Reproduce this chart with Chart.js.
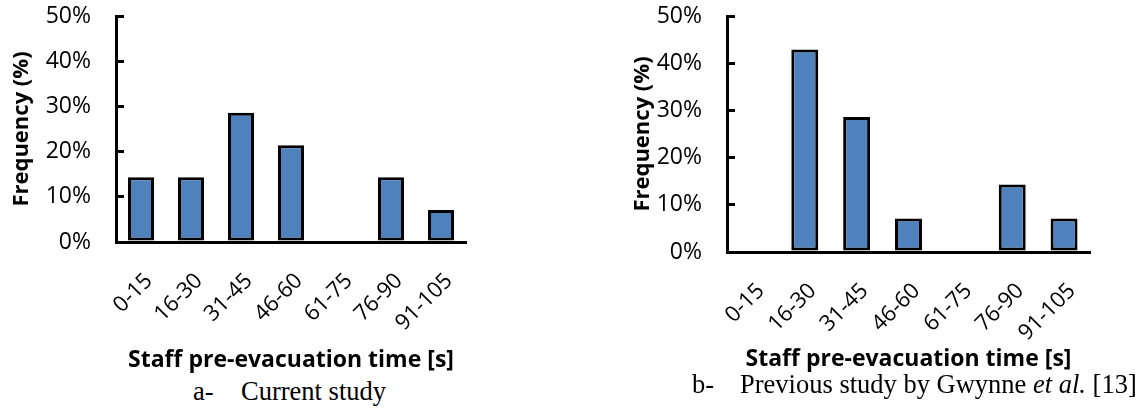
<!DOCTYPE html>
<html><head><meta charset="utf-8">
<script src="https://cdn.jsdelivr.net/npm/chart.js@4"></script>
<style>
body{margin:0;background:#fff;width:1141px;height:412px;position:relative;overflow:hidden}
#w1{position:absolute;left:0;top:0;width:480px;height:374px}
#w2{position:absolute;left:600px;top:0;width:541px;height:374px}
.cap{position:absolute;font-family:'Liberation Serif';font-size:26.5px;white-space:nowrap;line-height:26.5px;color:#000}
</style></head>
<body>
<div id="w1"><canvas id="c1"></canvas></div>
<div id="w2"><canvas id="c2"></canvas></div>
<div class="cap" style="left:193px;top:378px">a-</div>
<div class="cap" style="left:241px;top:378px">Current study</div>
<div class="cap" style="left:692px;top:371px">b-</div>
<div class="cap" style="left:740px;top:371px">Previous study by Gwynne <i>et al.</i> [13]</div>
<script>
const categories = ['0-15','16-30','31-45','46-60','61-75','76-90','91-105'];
const currentStudy = [14.3, 14.3, 28.6, 21.4, 0, 14.3, 7.1];
const gwynneStudy = [0, 42.9, 28.6, 7.1, 0, 14.3, 7.1];
const yMin = 0, yMax = 50, yStep = 10;
const yTitle = 'Frequency (%)';
const xTitle = 'Staff pre-evacuation time [s]';

function makeChart(id, values, cfg) {
  return new Chart(document.getElementById(id), {
    type: 'bar',
    data: {
      labels: categories,
      datasets: [{
        data: values,
        backgroundColor: '#4F81BD',
        borderColor: '#000',
        borderWidth: 3,
        borderSkipped: false,
        barPercentage: 0.52,
        categoryPercentage: 1
      }]
    },
    options: {
      responsive: true,
      maintainAspectRatio: false,
      animation: false,
      layout: { padding: { left: 0, top: cfg.top, right: cfg.right, bottom: 0 } },
      plugins: { legend: { display: false }, tooltip: { enabled: false } },
      scales: {
        x: {
          grid: { display: false, drawTicks: false },
          border: { display: true, color: '#000', width: 3 },
          ticks: {
            autoSkip: false, maxRotation: 45, minRotation: 45,
            color: '#000', font: { family: 'Open Sans', size: 22 },
            padding: 26, labelOffset: 8
          },
          title: {
            display: true, text: xTitle, color: '#000',
            font: { family: 'Open Sans', weight: 'bold', size: 23 },
            padding: { top: 0, bottom: cfg.xpb }
          },
          afterFit: s => { s.height = cfg.xh; s.paddingLeft = 0; s.paddingRight = 0; }
        },
        y: {
          min: yMin, max: yMax,
          grid: { drawOnChartArea: false, drawTicks: true, tickLength: -8, color: '#000', lineWidth: 3 },
          border: { display: true, color: '#000', width: 3 },
          ticks: {
            stepSize: yStep, color: '#000',
            font: { family: 'Open Sans', size: 23 },
            padding: 33,
            callback: v => v + '%'
          },
          title: {
            display: true, text: yTitle, color: '#000',
            font: { family: 'Open Sans', weight: 'bold', size: 22 },
            padding: { top: cfg.tpad, bottom: 0 }
          },
          afterFit: s => { s.width = cfg.yw; s.paddingTop = 0; s.paddingBottom = 0; }
        }
      }
    }
  });
}
makeChart('c1', currentStudy, { top: 16, right: 14, xh: 374 - 242, yw: 116, tpad: 9, xpb: 0 });
makeChart('c2', gwynneStudy, { top: 16, right: 51, xh: 374 - 252, yw: 127, tpad: 30, xpb: 1 });
</script>
</body></html>
